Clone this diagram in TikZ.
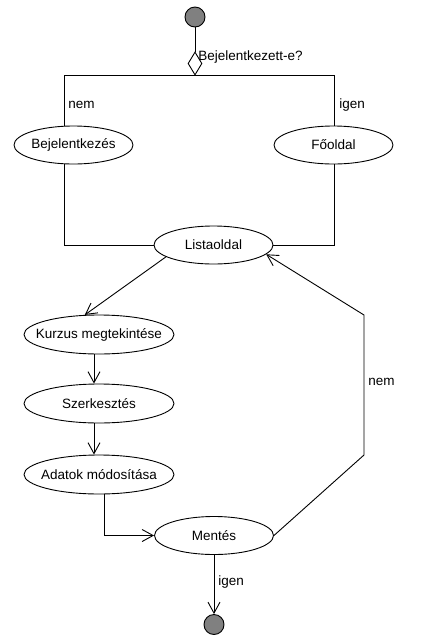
\documentclass[tikz,border=0pt]{standalone}
\usepackage{fontspec}
\setmainfont{Liberation Sans}
\usetikzlibrary{shapes.geometric,arrows.meta}
\newcommand{\stlabel}[1]{\makebox[0pt]{#1}}

\begin{document}
\begin{tikzpicture}[x=1pt,y=-1pt,line width=0.9pt,>={Straight Barb[length=11pt,width=12pt]}]
    \tikzstyle{state}=[ellipse,draw=black,fill=white,minimum width=119pt,minimum height=38pt,inner sep=0pt,font=\fontsize{13.5}{16}\selectfont]
    \tikzstyle{dot}=[circle,draw=black,fill=gray,minimum size=20pt,inner sep=0pt]
    \tikzstyle{guard}=[anchor=base west,inner sep=0pt,font=\fontsize{13.5}{16}\selectfont]
    \useasboundingbox (0,0) rectangle (431,638);

    \node[dot] (start) at (195,17) {};
    \node[diamond,draw=black,fill=white,minimum width=14pt,minimum height=23pt,inner sep=0pt] (dec) at (195,63.5) {};
    \node[state] (bej) at (73.5,145) {\stlabel{Bejelentkezés}};
    \node[state] (fo) at (333.5,145) {\stlabel{Főoldal}};
    \node[state] (list) at (213.5,245) {\stlabel{Listaoldal}};
    \foreach \name/\y/\txt in {kurz/334.5/Kurzus megtekintése, szerk/403.5/Szerkesztés, adat/474.5/Adatok módosítása}
        \node[state,minimum width=150pt,minimum height=39pt] (\name) at (99,\y) {\stlabel{\txt}};
    \node[state] (ment) at (214,535.5) {\stlabel{Mentés}};
    \node[dot] (end) at (214,624.5) {};

    % bend points
    \coordinate (nw) at (64,75);
    \coordinate (ne) at (334,75);
    \coordinate (b1) at (364,455);
    \coordinate (b2) at (364,315);

    \draw (start) -- (dec);
    \draw (bej.north -| nw) -- (nw) -- (ne) -- (fo.north -| ne);
    \draw (bej.south -| nw) |- (list.west);
    \draw (fo.south -| ne) |- (list.east);
    \draw[->] (list.194) -- (kurz.126);
    \foreach \from/\to in {kurz/szerk, szerk/adat}
        \draw[->] ([xshift=-5pt]\from.south) -- ([xshift=-5pt]\to.north);
    \draw[->] ([xshift=5pt]adat.south) |- (ment.west);
    \draw[->] (ment) -- (end);
    \draw[->] (ment.east) -- (b1) -- (b2) -- (list.350);

    \node[guard] (q) at (198,60) {Bejelentkezett-e?};
    \node[guard] (n1) at (68,108) {nem};
    \node[guard] (i1) at (339,108) {igen};
    \node[guard] (n2) at (368,385) {nem};
    \node[guard] (i2) at (218,585) {igen};
\end{tikzpicture}
\end{document}
